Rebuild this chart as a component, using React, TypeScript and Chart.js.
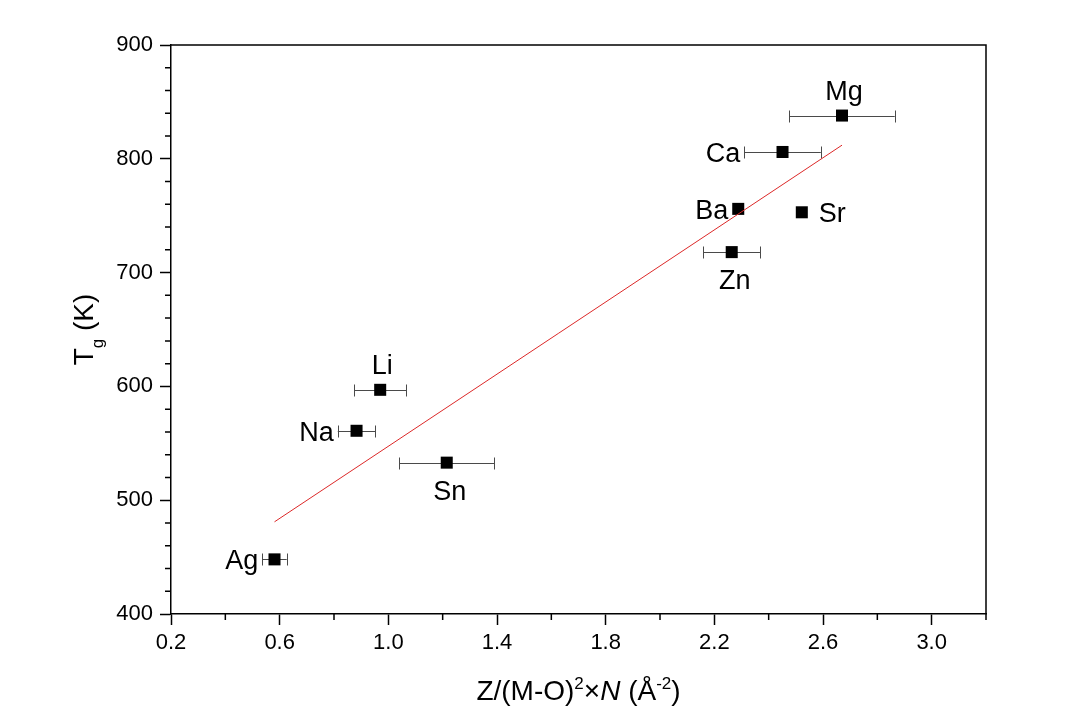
import React, { useEffect, useRef } from 'react';
import { Chart, registerables } from 'chart.js';

Chart.register(...registerables);

// ---- data ----
const elements = ['Ag', 'Na', 'Li', 'Sn', 'Zn', 'Ba', 'Ca', 'Sr', 'Mg'];
const xValues = [0.581, 0.883, 0.97, 1.215, 2.264, 2.288, 2.451, 2.522, 2.67];
const tgValues = [448, 561, 597, 533, 718, 756, 806, 753, 838];
const xErrors = [0.045, 0.069, 0.096, 0.174, 0.104, 0, 0.141, 0, 0.194];
const labelSides = ['left', 'left', 'top', 'bottom', 'bottom', 'left', 'left', 'right', 'top'];

const fitX = [0.581, 2.67];
const fitY = [481, 812];

const xTicks = [0.2, 0.6, 1.0, 1.4, 1.8, 2.2, 2.6, 3.0];
const xTickLabels = ['0.2', '0.6', '1.0', '1.4', '1.8', '2.2', '2.6', '3.0'];
const xMinorTicks = [0.4, 0.8, 1.2, 1.6, 2.0, 2.4, 2.8, 3.2];
const yTicks = [400, 500, 600, 700, 800, 900];
const yTickLabels = ['400', '500', '600', '700', '800', '900'];
const yMinorTicks = [420, 440, 460, 480, 520, 540, 560, 580, 620, 640, 660, 680, 720, 740, 760, 780, 820, 840, 860, 880];

const X_MIN = 0.2;
const X_MAX = 3.2;
const Y_MIN = 400;
const Y_MAX = 900;

const FONT = "'Liberation Sans', Arial, sans-serif";

const decorPlugin = {
  id: 'decor',
  beforeDatasetsDraw(chart: any) {
    const ctx = chart.ctx;
    const xs = chart.scales.x;
    const ys = chart.scales.y;
    ctx.save();
    ctx.strokeStyle = '#4a4a4a';
    ctx.lineWidth = 1;
    for (let i = 0; i < xValues.length; i++) {
      const e = xErrors[i];
      if (!e) continue;
      const x1 = xs.getPixelForValue(xValues[i] - e);
      const x2 = xs.getPixelForValue(xValues[i] + e);
      const y = Math.round(ys.getPixelForValue(tgValues[i])) + 0.5;
      ctx.beginPath();
      ctx.moveTo(x1, y);
      ctx.lineTo(x2, y);
      ctx.moveTo(Math.round(x1) + 0.5, y - 6);
      ctx.lineTo(Math.round(x1) + 0.5, y + 6);
      ctx.moveTo(Math.round(x2) + 0.5, y - 6);
      ctx.lineTo(Math.round(x2) + 0.5, y + 6);
      ctx.stroke();
    }
    ctx.restore();
  },
  afterDraw(chart: any) {
    const ctx = chart.ctx;
    const xs = chart.scales.x;
    const ys = chart.scales.y;
    const area = chart.chartArea;
    ctx.save();

    // frame top / right
    ctx.strokeStyle = '#000';
    ctx.lineWidth = 1.5;
    ctx.beginPath();
    ctx.moveTo(area.left, area.top);
    ctx.lineTo(area.right, area.top);
    ctx.lineTo(area.right, area.bottom);
    ctx.stroke();

    // minor ticks
    ctx.lineWidth = 1.5;
    ctx.beginPath();
    xMinorTicks.forEach((v) => {
      const px = xs.getPixelForValue(v);
      ctx.moveTo(px, area.bottom);
      ctx.lineTo(px, area.bottom + 6);
    });
    yMinorTicks.forEach((v) => {
      const py = ys.getPixelForValue(v);
      ctx.moveTo(area.left, py);
      ctx.lineTo(area.left - 6, py);
    });
    ctx.stroke();

    // point labels
    ctx.fillStyle = '#000';
    ctx.font = `27px ${FONT}`;
    ctx.textBaseline = 'alphabetic';
    for (let i = 0; i < elements.length; i++) {
      const px = xs.getPixelForValue(xValues[i]);
      const py = ys.getPixelForValue(tgValues[i]);
      const e = xErrors[i];
      const side = labelSides[i];
      if (side === 'left') {
        const leftEdge = Math.min(e ? xs.getPixelForValue(xValues[i] - e) : px - 6, px - 6);
        ctx.textAlign = 'right';
        ctx.fillText(elements[i], leftEdge - 4, py + 10);
      } else if (side === 'right') {
        const rightEdge = Math.max(e ? xs.getPixelForValue(xValues[i] + e) : px + 6, px + 6);
        ctx.textAlign = 'left';
        ctx.fillText(elements[i], rightEdge + 11, py + 10);
      } else if (side === 'top') {
        ctx.textAlign = 'center';
        ctx.fillText(elements[i], px + 2, py - 16);
      } else {
        ctx.textAlign = 'center';
        ctx.fillText(elements[i], px + 3, py + 37);
      }
    }

    // x axis title: Z/(M-O)^2 x N (Å^-2)
    const big = `28px ${FONT}`;
    const bigItalic = `italic 28px ${FONT}`;
    const small = `17px ${FONT}`;
    const segs: [string, string, number][] = [
      ['Z/(M-O)', big, 0],
      ['2', small, -11],
      ['\u00d7', big, 0],
      ['N', bigItalic, 0],
      [' (\u00c5', big, 0],
      ['-2', small, -11],
      [')', big, 0],
    ];
    let total = 0;
    segs.forEach(([t, f]) => {
      ctx.font = f;
      total += ctx.measureText(t).width;
    });
    let cx = (area.left + area.right) / 2 - total / 2;
    const by = 700;
    ctx.textAlign = 'left';
    segs.forEach(([t, f, dy]) => {
      ctx.font = f;
      ctx.fillText(t, cx, by + dy);
      cx += ctx.measureText(t).width;
    });

    // y axis title: T_g (K)
    const ysegs: [string, string, number][] = [
      ['T', big, 0],
      ['g', `17px ${FONT}`, 10],
      [' (K)', big, 0],
    ];
    let ytot = 0;
    ysegs.forEach(([t, f]) => {
      ctx.font = f;
      ytot += ctx.measureText(t).width;
    });
    ctx.save();
    ctx.translate(93, (area.top + area.bottom) / 2);
    ctx.rotate(-Math.PI / 2);
    let lx = -ytot / 2;
    ysegs.forEach(([t, f, dy]) => {
      ctx.font = f;
      ctx.fillText(t, lx, dy);
      lx += ctx.measureText(t).width;
    });
    ctx.restore();

    ctx.restore();
  },
};

export default function App() {
  const canvasRef = useRef<HTMLCanvasElement | null>(null);

  useEffect(() => {
    const canvas = canvasRef.current;
    if (!canvas) return;
    const chart = new Chart(canvas, {
      type: 'scatter',
      data: {
        datasets: [
          {
            type: 'line',
            label: 'fit',
            data: fitX.map((x, i) => ({ x, y: fitY[i] })),
            borderColor: 'rgb(220, 40, 40)',
            borderWidth: 1,
            pointRadius: 0,
            fill: false,
            order: 0,
          } as any,
          {
            label: 'Tg',
            data: xValues.map((x, i) => ({ x, y: tgValues[i] })),
            pointStyle: 'rect',
            pointRadius: 8.5,
            pointHoverRadius: 8.5,
            backgroundColor: '#000',
            borderColor: '#000',
            borderWidth: 0,
            order: 1,
          },
        ],
      },
      options: {
        responsive: false,
        animation: false,
        devicePixelRatio: 1,
        layout: { padding: { left: 0, top: 45, right: 96, bottom: 0 } },
        plugins: {
          legend: { display: false },
          tooltip: { enabled: false },
        },
        events: [],
        scales: {
          x: {
            type: 'linear',
            min: X_MIN,
            max: X_MAX,
            afterBuildTicks: (scale: any) => {
              scale.ticks = xTicks.map((v) => ({ value: v }));
            },
            afterFit: (scale: any) => {
              scale.height = 108;
            },
            ticks: {
              callback: (v: any) => {
                const idx = xTicks.findIndex((t) => Math.abs(t - Number(v)) < 1e-6);
                return idx >= 0 ? xTickLabels[idx] : '';
              },
              font: { family: FONT, size: 22 },
              color: '#000',
              padding: 5,
              maxRotation: 0,
              autoSkip: false,
            },
            grid: {
              display: true,
              drawOnChartArea: false,
              drawTicks: true,
              tickLength: 11,
              tickColor: '#000',
              tickWidth: 1.5,
            },
            border: { display: true, color: '#000', width: 1.5 },
          },
          y: {
            type: 'linear',
            min: Y_MIN,
            max: Y_MAX,
            afterBuildTicks: (scale: any) => {
              scale.ticks = yTicks.map((v) => ({ value: v }));
            },
            afterFit: (scale: any) => {
              scale.width = 171;
            },
            ticks: {
              callback: (v: any) => {
                const idx = yTicks.findIndex((t) => Math.abs(t - Number(v)) < 1e-6);
                return idx >= 0 ? yTickLabels[idx] : '';
              },
              font: { family: FONT, size: 22 },
              color: '#000',
              padding: 7,
              autoSkip: false,
            },
            grid: {
              display: true,
              drawOnChartArea: false,
              drawTicks: true,
              tickLength: 11,
              tickColor: '#000',
              tickWidth: 1.5,
            },
            border: { display: true, color: '#000', width: 1.5 },
          },
        },
      },
      plugins: [decorPlugin],
    });
    return () => chart.destroy();
  }, []);

  return (
    <div style={{ position: 'absolute', left: 0, top: 0, width: 1082, height: 722, background: '#fff' }}>
      <canvas ref={canvasRef} width={1082} height={722} style={{ display: 'block' }} />
    </div>
  );
}
